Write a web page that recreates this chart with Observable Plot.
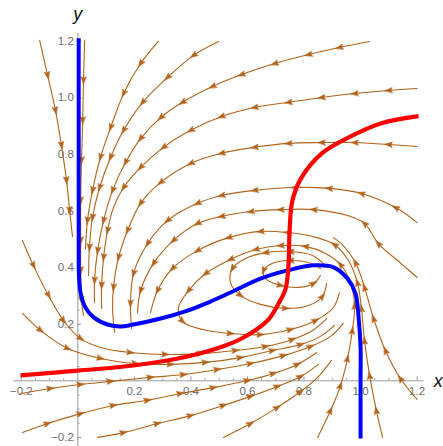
<!DOCTYPE html>
<html><head><meta charset="utf-8">
<script src="https://cdn.jsdelivr.net/npm/d3@7"></script>
<script src="https://cdn.jsdelivr.net/npm/@observablehq/plot@0.6"></script>
<style>body{margin:0;background:#fff}svg{display:block}</style>
</head><body><div id="chart"></div>
<script>
// ---- axis ranges and ticks ----
const plotRangeX = [-0.227, 1.225];
const plotRangeY = [-0.233, 1.228];
const xMajorTicks = [-0.2, 0.2, 0.4, 0.6, 0.8, 1.0, 1.2];
const xTickLabels = ["\u22120.2", "0.2", "0.4", "0.6", "0.8", "1.0", "1.2"];
const yMajorTicks = [-0.2, 0.2, 0.4, 0.6, 0.8, 1.0, 1.2];
const yTickLabels = ["\u22120.2", "0.2", "0.4", "0.6", "0.8", "1.0", "1.2"];
const minorTicks = [-0.15, -0.1, -0.05, 0.05, 0.1, 0.15, 0.25, 0.3, 0.35, 0.45, 0.5, 0.55, 0.65, 0.7, 0.75, 0.85, 0.9, 0.95, 1.05, 1.1, 1.15];

// ---- nullclines ----
const blueCurve = [[0.003,1.21],[0.003,0.814],[0.003,0.46],[0.004,0.372],[0.010,0.309],[0.027,0.259],[0.056,0.224],[0.105,0.199],[0.151,0.192],[0.197,0.199],[0.293,0.220],[0.388,0.248],[0.469,0.280],[0.540,0.312],[0.646,0.361],[0.742,0.390],[0.834,0.408],[0.905,0.401],[0.954,0.361],[0.982,0.309],[0.993,0.224],[1.000,0.118],[1.000,0.001],[1.000,-0.204]];
const redCurve = [[-0.203,0.019],[-0.001,0.036],[0.197,0.054],[0.388,0.086],[0.512,0.121],[0.586,0.153],[0.671,0.213],[0.710,0.273],[0.735,0.326],[0.745,0.407],[0.749,0.531],[0.759,0.637],[0.791,0.718],[0.862,0.803],[0.958,0.860],[1.074,0.910],[1.205,0.935]];

// ---- stream lines (in flow order) ----
const T1 = [[-0.135,1.203],[-0.107,1.079],[-0.079,0.955],[-0.058,0.832],[-0.040,0.708],[-0.029,0.602],[-0.019,0.510]];
const T2 = [[0.024,1.203],[0.020,1.061],[0.017,0.920],[0.013,0.779],[0.010,0.637],[0.010,0.496],[0.010,0.390],[0.013,0.284],[0.020,0.231]];
const T3 = [[0.285,1.199],[0.222,1.121],[0.162,1.015],[0.116,0.895],[0.080,0.790],[0.052,0.673],[0.034,0.566],[0.027,0.467]];
const T4 = [[0.498,1.199],[0.409,1.150],[0.317,1.072],[0.229,0.984],[0.162,0.885],[0.116,0.790],[0.077,0.683],[0.052,0.577],[0.041,0.471],[0.038,0.372]];
const T5 = [[1.032,1.199],[0.925,1.178],[0.816,1.153],[0.696,1.121],[0.579,1.082],[0.476,1.040],[0.370,0.984],[0.293,0.930],[0.222,0.856],[0.169,0.772],[0.123,0.673],[0.091,0.566],[0.070,0.460],[0.059,0.354],[0.059,0.277]];
const T6 = [[1.200,1.033],[1.099,1.026],[0.979,1.015],[0.862,1.001],[0.745,0.984],[0.625,0.966],[0.508,0.934],[0.399,0.885],[0.303,0.825],[0.222,0.754],[0.162,0.683],[0.126,0.612],[0.105,0.531],[0.091,0.436],[0.084,0.337],[0.084,0.256]];
const T7 = [[1.200,0.828],[1.099,0.835],[0.979,0.842],[0.862,0.842],[0.745,0.839],[0.625,0.825],[0.508,0.804],[0.399,0.768],[0.293,0.701],[0.222,0.627],[0.176,0.531],[0.144,0.436],[0.126,0.330],[0.123,0.249],[0.130,0.171]];
const T8 = [[1.200,0.559],[1.124,0.612],[1.003,0.662],[0.888,0.680],[0.766,0.683],[0.625,0.673],[0.508,0.655],[0.423,0.627],[0.317,0.566],[0.247,0.485],[0.197,0.379],[0.186,0.273],[0.190,0.185]];
const T9 = [[1.200,0.365],[1.143,0.415],[1.063,0.485],[1.014,0.556],[0.954,0.584],[0.834,0.605],[0.717,0.605],[0.611,0.598],[0.508,0.581],[0.423,0.556],[0.338,0.496],[0.268,0.415],[0.222,0.319],[0.211,0.241]];
const T10 = [[1.078,-0.200],[1.056,-0.105],[1.032,0.019],[1.014,0.142],[1.003,0.256],[0.989,0.347],[0.957,0.425],[0.908,0.481],[0.830,0.510],[0.742,0.524],[0.646,0.528],[0.533,0.506],[0.423,0.460],[0.335,0.397],[0.282,0.319],[0.257,0.241]];
const RR1 = [[1.200,-0.066],[1.141,0.008],[1.088,0.107],[1.046,0.220],[1.014,0.330],[0.982,0.418],[0.939,0.478],[0.904,0.506]];
const R1 = [[0.858,0.397],[0.816,0.418],[0.752,0.425],[0.689,0.415],[0.657,0.390],[0.667,0.358],[0.717,0.337],[0.781,0.330],[0.834,0.344],[0.858,0.372]];
const R2 = [[0.876,0.407],[0.830,0.443],[0.752,0.457],[0.664,0.453],[0.593,0.432],[0.547,0.397],[0.540,0.347],[0.575,0.302],[0.646,0.270],[0.735,0.256],[0.816,0.266],[0.865,0.298],[0.880,0.344]];
const R3 = [[0.848,-0.200],[0.894,-0.105],[0.929,-0.017],[0.954,0.079],[0.971,0.178],[0.979,0.266],[0.964,0.347],[0.929,0.411],[0.876,0.450],[0.805,0.475],[0.717,0.478],[0.629,0.464],[0.540,0.429],[0.452,0.379],[0.392,0.319],[0.356,0.259],[0.370,0.210],[0.441,0.181],[0.540,0.167],[0.646,0.163],[0.752,0.181],[0.841,0.213],[0.904,0.259],[0.925,0.312]];
const M1 = [[-0.196,0.496],[-0.157,0.407],[-0.104,0.302],[-0.051,0.213],[0.010,0.149],[0.080,0.118],[0.186,0.100],[0.310,0.093],[0.434,0.096],[0.558,0.107],[0.664,0.121],[0.759,0.146],[0.830,0.178],[0.880,0.220]];
const M2 = [[-0.196,0.238],[-0.132,0.178],[-0.036,0.114],[0.080,0.079],[0.204,0.061],[0.328,0.058],[0.452,0.065],[0.575,0.082],[0.689,0.107],[0.788,0.128],[0.858,0.157],[0.908,0.196]];
const B1 = [[-0.203,-0.045],[-0.097,-0.027],[0.010,-0.013],[0.116,-0.002],[0.257,0.012],[0.374,0.022],[0.494,0.040],[0.611,0.061],[0.728,0.089],[0.823,0.121],[0.894,0.157],[0.939,0.203]];
const B2 = [[-0.196,-0.183],[-0.107,-0.151],[0.010,-0.116],[0.126,-0.087],[0.247,-0.069],[0.363,-0.045],[0.480,-0.024],[0.600,0.001],[0.692,0.026],[0.777,0.058],[0.845,0.100]];
const B3 = [[0.070,-0.200],[0.162,-0.183],[0.282,-0.151],[0.399,-0.123],[0.515,-0.087],[0.611,-0.055],[0.706,-0.020],[0.788,0.015],[0.851,0.058]];
const B4 = [[0.515,-0.200],[0.611,-0.151],[0.706,-0.094],[0.788,-0.038],[0.851,0.015],[0.897,0.072]];

// ---- build tables for the library ----
const streamSets = {T1, T2, T3, T4, T5, T6, T7, T8, T9, T10, RR1, R1, R2, R3, M1, M2, B1, B2, B3, B4};
const streamRows = Object.entries(streamSets).flatMap(([id, pts]) => pts.map(([x, y]) => ({id, x, y})));
const arrowRows = [];
for (const pts of Object.values(streamSets)) {
  let acc = 0;
  for (let i = 1; i < pts.length - 1; i++) {
    acc += Math.hypot(pts[i][0] - pts[i-1][0], pts[i][1] - pts[i-1][1]) * 283;
    if (acc >= 24) {
      const dx = pts[i+1][0] - pts[i-1][0], dy = pts[i+1][1] - pts[i-1][1];
      arrowRows.push({x: pts[i][0], y: pts[i][1], a: Math.atan2(dx, dy) * 180 / Math.PI});
      acc = 0;
    }
  }
}
const arrowHead = {
  draw(ctx, l) {
    const w = l * 0.36;
    ctx.moveTo(0, -l);
    ctx.lineTo(w, 0);
    ctx.lineTo(0, -l * 0.18);
    ctx.lineTo(-w, 0);
    ctx.closePath();
  }
};
const streamColor = "#b3631a";
const axisColor = "#9a9a9a";
const labelColor = "#6e6e6e";

const chart = Plot.plot({
  width: 443,
  height: 446,
  x: {domain: [-0.2, 1.2], range: [20.8, 416.6], axis: null},
  y: {domain: [-0.2, 1.2], range: [436.9, 40.7], axis: null},
  style: {background: "#fff"},
  marks: [
    Plot.ruleY([0], {x1: plotRangeX[0], x2: plotRangeX[1], stroke: axisColor, strokeWidth: 1}),
    Plot.ruleX([0], {y1: plotRangeY[0], y2: plotRangeY[1], stroke: axisColor, strokeWidth: 1}),
    Plot.ruleX(xMajorTicks, {x: d => d, y1: 0, y2: 0, insetTop: -4, stroke: axisColor}),
    Plot.ruleX(minorTicks, {x: d => d, y1: 0, y2: 0, insetTop: -2.5, stroke: axisColor, strokeWidth: 0.8}),
    Plot.ruleY(yMajorTicks, {y: d => d, x1: 0, x2: 0, insetRight: -4, stroke: axisColor}),
    Plot.ruleY(minorTicks, {y: d => d, x1: 0, x2: 0, insetRight: -2.5, stroke: axisColor, strokeWidth: 0.8}),
    Plot.text(xMajorTicks, {x: d => d, y: 0, text: (d, i) => xTickLabels[i], dy: 11, fill: labelColor, fontSize: 11.5, fontFamily: "Liberation Sans"}),
    Plot.text(yMajorTicks, {x: 0, y: d => d, text: (d, i) => yTickLabels[i], dx: -4, textAnchor: "end", fill: labelColor, fontSize: 11.5, fontFamily: "Liberation Sans"}),
    Plot.text(["x"], {x: plotRangeX[1], y: 0, dx: 14, dy: 0.5, fontSize: 18, fontStyle: "italic", fontFamily: "Liberation Sans", fill: "#111"}),
    Plot.text(["y"], {x: 0, y: plotRangeY[1], dy: -19, fontSize: 18, fontStyle: "italic", fontFamily: "Liberation Sans", fill: "#111"}),
    Plot.line(streamRows, {x: "x", y: "y", z: "id", curve: "catmull-rom", stroke: streamColor, strokeWidth: 1.1}),
    Plot.vector(arrowRows, {x: "x", y: "y", rotate: "a", length: 7.5, anchor: "middle", shape: arrowHead, fill: streamColor, stroke: streamColor, strokeWidth: 0.5}),
    Plot.line(blueCurve, {x: d => d[0], y: d => d[1], curve: "catmull-rom", stroke: "#0000ff", strokeWidth: 4, strokeLinecap: "butt"}),
    Plot.line(redCurve, {x: d => d[0], y: d => d[1], curve: "catmull-rom", stroke: "#ff0000", strokeWidth: 4.2, strokeLinecap: "butt"})
  ]
});
document.getElementById("chart").append(chart);
</script>
</body></html>
